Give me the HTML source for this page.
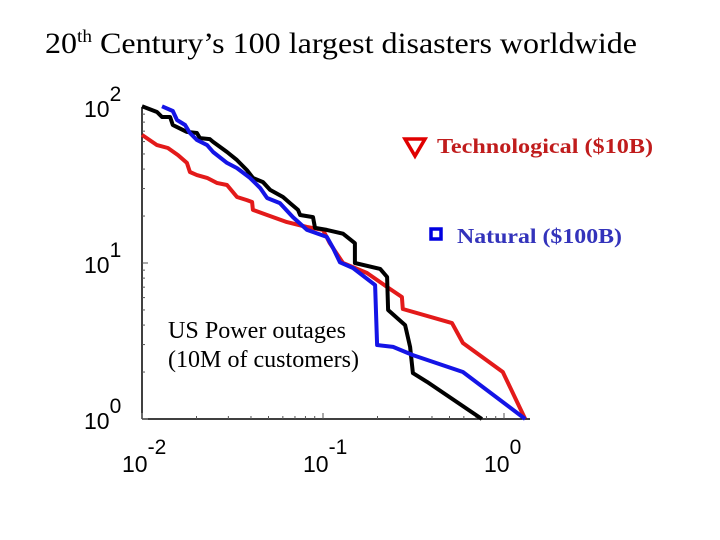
<!DOCTYPE html>
<html><head><meta charset="utf-8"><style>
html,body{margin:0;padding:0;background:#fff;}
svg{display:block;}
</style></head><body>
<svg width="720" height="540" viewBox="0 0 720 540" xmlns="http://www.w3.org/2000/svg">
<text x="45" y="53" font-family="Liberation Serif, serif" font-size="30" fill="#000" textLength="592" lengthAdjust="spacingAndGlyphs">20<tspan font-size="18" dy="-11">th</tspan><tspan dy="11"> Century’s 100 largest disasters worldwide</tspan></text>
<g id="axes"></g>
<g id="series"></g>
<text x="168" y="338" font-family="Liberation Serif, serif" font-size="24" fill="#000" textLength="178" lengthAdjust="spacingAndGlyphs">US Power outages</text>
<text x="168" y="367" font-family="Liberation Serif, serif" font-size="24" fill="#000" textLength="191" lengthAdjust="spacingAndGlyphs">(10M of customers)</text>
<g>
<polygon points="405,139 425,139 415,156" fill="none" stroke="#e00000" stroke-width="3.5"/>
<text x="437" y="153" font-family="Liberation Serif, serif" font-weight="bold" font-size="21" fill="#c01c1c" textLength="216" lengthAdjust="spacingAndGlyphs">Technological ($10B)</text>
</g>
<g>
<rect x="431" y="229" width="10" height="10" fill="none" stroke="#0000e0" stroke-width="3.5"/>
<text x="457" y="243" font-family="Liberation Serif, serif" font-weight="bold" font-size="21" fill="#3333bb" textLength="165" lengthAdjust="spacingAndGlyphs">Natural ($100B)</text>
</g>
</svg>
<script>
const blackX=[0.01,0.0121,0.0129,0.0143,0.0148,0.0177,0.0201,0.0209,0.0237,0.0247,0.0295,0.0335,0.038,0.041,0.0466,0.051,0.0601,0.0657,0.0728,0.0747,0.0881,0.0903,0.105,0.129,0.15,0.15,0.207,0.226,0.229,0.284,0.303,0.314,0.376,0.755];
const blackY=[101,92.9,86.3,86.3,76.7,69.2,68.1,63.2,62.3,59.7,51.5,45.7,39.4,35.1,33.0,29.4,26.5,24.2,21.9,20.3,19.7,16.8,16.3,15.4,13.4,10,9.16,8.13,5.0,4.0,2.9,1.97,1.73,1];
const blueX=[0.0129,0.0148,0.0156,0.0173,0.0184,0.0201,0.0229,0.0247,0.0295,0.0335,0.0395,0.0449,0.0491,0.0578,0.0682,0.0816,0.105,0.1135,0.124,0.1465,0.194,0.199,0.244,0.314,0.593,1.31];
const blueY=[101,94.2,82.6,76.7,68.1,61.4,57.0,51.5,43.8,40.6,35.1,30.3,26.1,24.2,19.7,16.3,14.7,12.5,10.1,9.29,7.22,2.98,2.9,2.57,2.0,1];
const redX=[0.01,0.0121,0.0139,0.0158,0.0177,0.0184,0.0201,0.0229,0.0259,0.0295,0.0335,0.038,0.0406,0.041,0.0491,0.0632,0.0816,0.1,0.109,0.129,0.175,0.199,0.226,0.273,0.276,0.516,0.593,0.985,1.31];
const redY=[66.2,57.0,54.6,49.2,43.8,38.3,36.6,35.1,32.6,31.6,26.5,25.3,24.6,21.9,20.3,18.3,17.0,16.3,13.4,10,8.63,7.78,7.02,6.05,5.07,4.12,3.07,2.0,1];
const xTickExps=[-2,-1,0];
const yTickExps=[0,1,2];

const NS="http://www.w3.org/2000/svg";
const X0=142,XD=181,Y0=419,YD=156;
function sx(v){return X0+(Math.log10(v)+2)*XD;}
function sy(v){return Y0-Math.log10(v)*YD;}
function mk(tag,attrs,parent){const e=document.createElementNS(NS,tag);for(const k in attrs)e.setAttribute(k,attrs[k]);parent.appendChild(e);return e;}
const axes=document.getElementById('axes');
let l=mk('line',{x1:X0,y1:sy(100),x2:X0,y2:Y0,stroke:'#000','stroke-width':1.5},axes);


l=mk('line',{x1:X0,y1:Y0,x2:530,y2:Y0,stroke:'#000','stroke-width':1.5},axes);


for(let d=-2;d<=0;d++){for(let m=1;m<=9;m++){const v=m*Math.pow(10,d);if(sx(v)>528)break;const x=sx(v);
 const t=mk('line',{x1:x,y1:Y0,x2:x,y2:Y0-(m===1?6:3),stroke:'#555','stroke-width':1},axes);
 
 }}
for(let d=0;d<=1;d++){for(let m=1;m<=9;m++){const v=m*Math.pow(10,d);const y=sy(v);
 const t=mk('line',{x1:X0,y1:y,x2:X0+(m===1?6:3),y2:y,stroke:'#555','stroke-width':1},axes);
 
 }}
xTickExps.forEach(e=>{const x=X0+(e+2)*XD;
 const t=mk('text',{x:x-20,y:472,'font-family':'Liberation Sans, sans-serif','font-size':23,fill:'#000'},axes);
 
 
 t.innerHTML='10<tspan dy="-18" font-size="21">'+e+'</tspan>';});
yTickExps.forEach(e=>{const y=Y0-e*YD;
 const t=mk('text',{x:84,y:y+10,'font-family':'Liberation Sans, sans-serif','font-size':23,fill:'#000'},axes);
 
 
 t.innerHTML='10<tspan dy="-16" font-size="21">'+e+'</tspan>';});
const series=document.getElementById('series');
function draw(xs,ys,color,name){const p=mk('polyline',{points:xs.map((x,i)=>sx(x).toFixed(1)+','+sy(ys[i]).toFixed(1)).join(' '),fill:'none',stroke:color,'stroke-width':4,'stroke-linejoin':'round'},series);
 
 }
draw(redX,redY,'#e31a1a','technological-line');
draw(blackX,blackY,'#000','power-outages-line');
draw(blueX,blueY,'#1414e6','natural-line');
</script>
</body></html>
